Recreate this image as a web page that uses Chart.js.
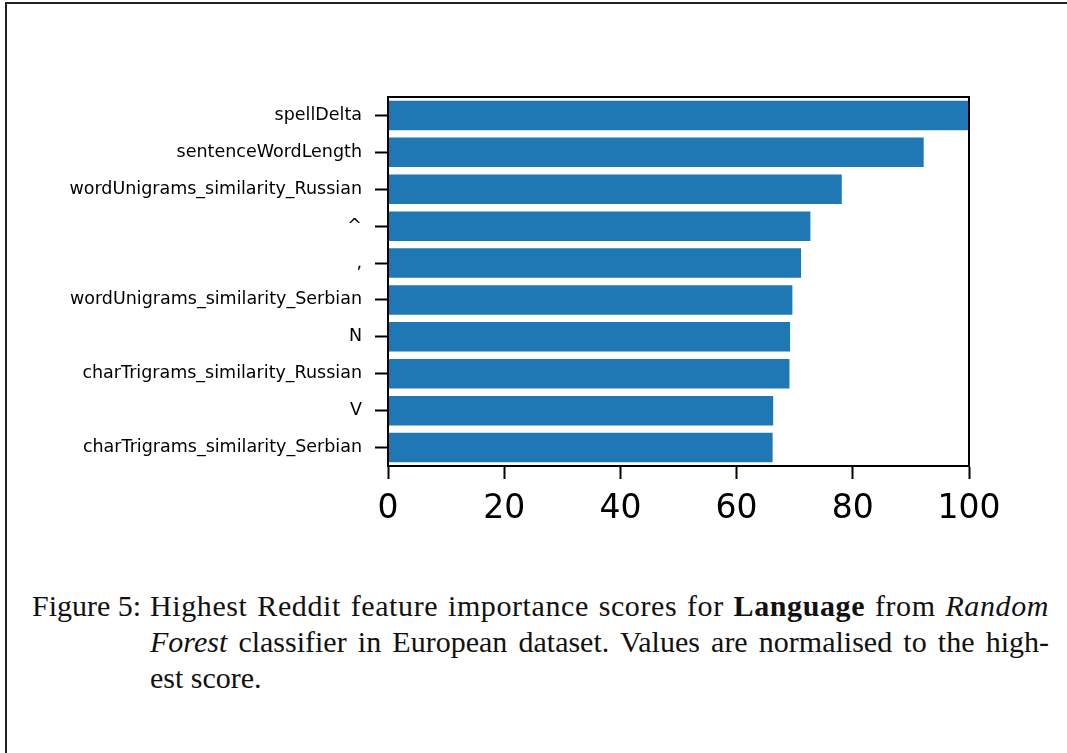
<!DOCTYPE html>
<html>
<head>
<meta charset="utf-8">
<script src="https://cdn.jsdelivr.net/npm/chart.js@4/dist/chart.umd.min.js"></script>
<style>
  html, body { margin: 0; padding: 0; background: #fff; }
  body { width: 1067px; height: 753px; position: relative; overflow: hidden; }
  #frame {
    position: absolute; left: 5px; top: 2px; width: 1100px; height: 800px;
    border-left: 2px solid #222; border-top: 2px solid #222;
  }
  #wrap { position: absolute; left: 0; top: 0; width: 1067px; height: 560px; }
  #caption {
    position: absolute; left: 0; top: 588px; width: 1067px;
    font-family: "Liberation Serif", serif; font-size: 30px; line-height: 36px; color: #111;
  }
  #caption .tag { position: absolute; left: 32px; top: 0; white-space: nowrap; }
  #caption .body { position: absolute; left: 150px; top: 0; width: 899px; }
  #caption .line { display: block; white-space: nowrap; }
  #caption .just { text-align: justify; text-align-last: justify; }
  #caption .wide { letter-spacing: 0.6px; }
</style>
</head>
<body>
<div id="frame"></div>
<div id="wrap"><canvas id="chart"></canvas></div>
<div id="caption">
  <span class="tag">Figure 5:</span>
  <div class="body">
    <span class="line just wide">Highest Reddit feature importance scores for <b>Language</b> from <i>Random</i></span>
    <span class="line just"><i>Forest</i> classifier in European dataset. Values are normalised to the high-</span>
    <span class="line">est score.</span>
  </div>
</div>
<script>
const features = [
  'spellDelta',
  'sentenceWordLength',
  'wordUnigrams_similarity_Russian',
  '^',
  ',',
  'wordUnigrams_similarity_Serbian',
  'N',
  'charTrigrams_similarity_Russian',
  'V',
  'charTrigrams_similarity_Serbian'
];
const importance = [100, 92.2, 78.1, 72.7, 71.1, 69.6, 69.2, 69.1, 66.3, 66.2];
const xTicks = [0, 20, 40, 60, 80, 100];

// box around the plot area (left/bottom come from the axis borders)
const framePlugin = {
  id: 'frame',
  afterDatasetsDraw(chart) {
    const { ctx, chartArea: a } = chart;
    ctx.save();
    ctx.strokeStyle = '#000';
    ctx.lineWidth = 2;
    ctx.strokeRect(a.left, a.top, a.right - a.left, a.bottom - a.top);
    ctx.restore();
  }
};

const ctx = document.getElementById('chart');
new Chart(ctx, {
  type: 'bar',
  data: {
    labels: features,
    datasets: [{
      data: importance,
      backgroundColor: '#1f77b4',
      borderWidth: 0,
      barPercentage: 0.8,
      categoryPercentage: 1.0
    }]
  },
  options: {
    indexAxis: 'y',
    responsive: true,
    maintainAspectRatio: false,
    animation: false,
    layout: { padding: { top: 97, right: 98, left: 0, bottom: 0 } },
    plugins: { legend: { display: false }, tooltip: { enabled: false } },
    scales: {
      x: {
        type: 'linear',
        min: 0,
        max: 100,
        afterBuildTicks(scale) {
          scale.ticks = xTicks.map(v => ({ value: v }));
        },
        afterFit(scale) { scale.height = 94; },
        grid: { drawOnChartArea: false, drawTicks: true, tickLength: 13, tickWidth: 2, tickColor: '#000' },
        border: { display: true, color: '#000', width: 2 },
        ticks: {
          color: '#000',
          padding: 11,
          maxRotation: 0,
          font: { family: '"DejaVu Sans", sans-serif', size: 33 }
        }
      },
      y: {
        afterFit(scale) { scale.width = 388; },
        grid: { offset: false, drawOnChartArea: false, drawTicks: true, tickLength: 13, tickWidth: 2, tickColor: '#000' },
        border: { display: true, color: '#000', width: 2 },
        ticks: {
          color: '#000',
          padding: 13,
          autoSkip: false,
          font: { family: '"DejaVu Sans", sans-serif', size: 17.5 }
        }
      }
    }
  },
  plugins: [framePlugin]
});
</script>
</body>
</html>
